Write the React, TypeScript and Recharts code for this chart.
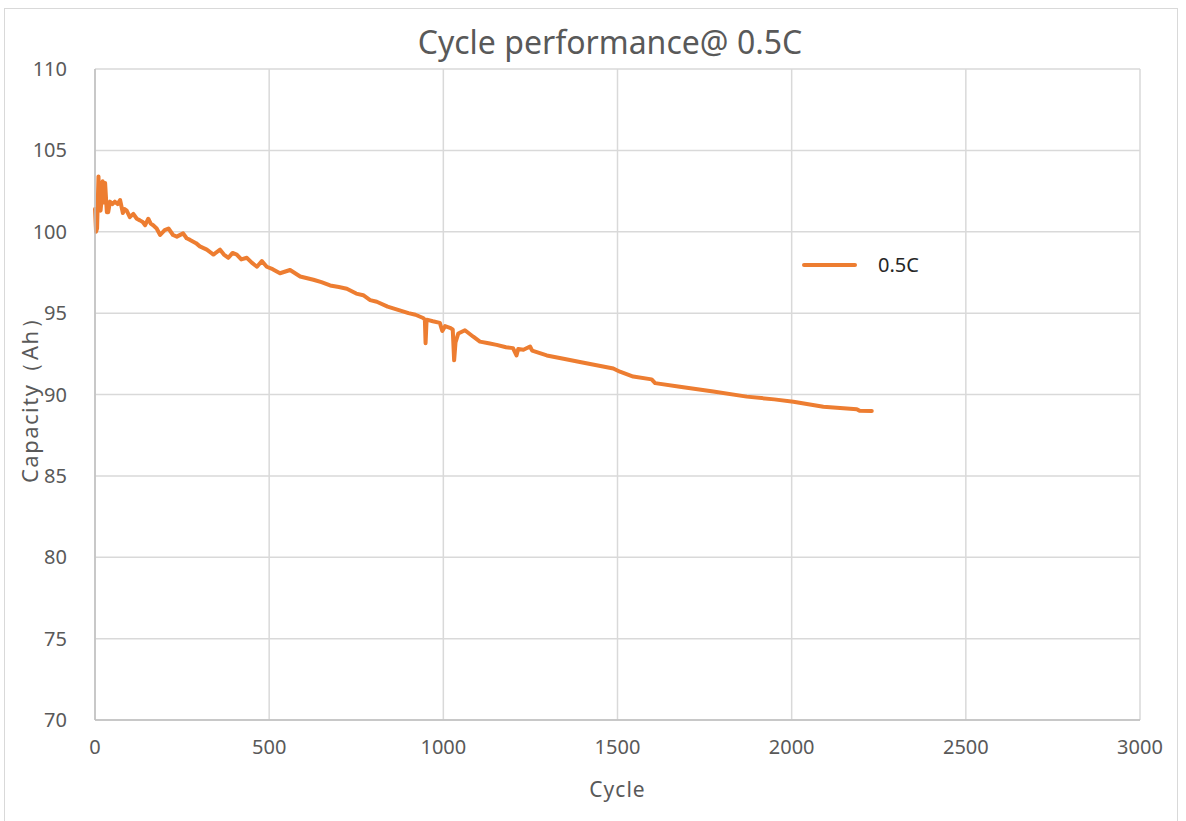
import React from 'react';
import { LineChart, Line, XAxis, YAxis, CartesianGrid, Label } from 'recharts';

const cycles = [
  0, 3, 6, 10, 13, 16, 19, 22, 26, 29, 34, 38, 43, 50, 57, 65, 72, 80, 85, 91,
  100, 110, 120, 129, 137, 144, 153, 160, 167, 177, 187, 200, 211, 224, 235, 253, 263, 273, 290, 301,
  321, 340, 359, 370, 383, 395, 407, 420, 436, 450, 465, 479, 493, 510, 531, 560, 589, 627, 650, 675,
  700, 723, 750, 770, 790, 809, 840, 870, 900, 920, 942, 947, 949, 952, 970, 990, 997, 1005, 1019, 1027,
  1031, 1035, 1043, 1062, 1086, 1105, 1130, 1153, 1180, 1200, 1210, 1215, 1230, 1249, 1255, 1297, 1345, 1392, 1440, 1488,
  1507, 1545, 1598, 1608, 1679, 1775, 1871, 1950, 2005, 2091, 2187, 2195, 2230,
];

const capacity = [
  101.4, 100.0, 100.2, 103.4, 101.5, 101.3, 102.0, 103.1, 101.8, 103.0, 101.2, 101.2, 101.85, 101.7, 101.85, 101.7, 101.95, 101.15, 101.4, 101.3,
  100.9, 101.1, 100.8, 100.7, 100.6, 100.4, 100.8, 100.5, 100.4, 100.2, 99.8, 100.1, 100.2, 99.8, 99.7, 99.9, 99.6, 99.5, 99.3, 99.1,
  98.9, 98.6, 98.9, 98.6, 98.4, 98.7, 98.6, 98.3, 98.4, 98.1, 97.85, 98.2, 97.85, 97.7, 97.45, 97.65, 97.25, 97.05, 96.9, 96.7,
  96.6, 96.5, 96.2, 96.1, 95.8, 95.7, 95.4, 95.2, 95.0, 94.9, 94.7, 94.6, 93.15, 94.6, 94.5, 94.4, 93.9, 94.2, 94.1, 94.0,
  92.1, 93.2, 93.75, 93.95, 93.55, 93.25, 93.15, 93.05, 92.9, 92.85, 92.4, 92.8, 92.75, 92.95, 92.7, 92.4, 92.2, 92.0, 91.8, 91.6,
  91.4, 91.1, 90.93, 90.7, 90.48, 90.18, 89.87, 89.7, 89.56, 89.25, 89.1, 89.0, 88.99,
];

const xTicks = [0, 500, 1000, 1500, 2000, 2500, 3000];
const yTicks = [70, 75, 80, 85, 90, 95, 100, 105, 110];

const data = cycles.map((c, i) => ({ cycle: c, cap: capacity[i] }));

const font = '"Noto Sans", "Open Sans", sans-serif';
const grey = '#595959';

export default function App() {
  return (
    <div style={{ position: 'absolute', left: 0, top: 0, width: 1186, height: 821, background: '#fff', fontFamily: font }}>
      <div style={{ position: 'absolute', left: 4, top: 8, width: 1172, height: 830, border: '1px solid #d9d9d9' }} />
      <div style={{ position: 'absolute', left: 0, top: 20, width: 1220, textAlign: 'center', fontSize: 32, color: grey }}>
        Cycle performance@ 0.5C
      </div>
      <LineChart
        width={1186}
        height={821}
        data={data}
        margin={{ top: 69, right: 46, bottom: 0, left: 0 }}
        style={{ position: 'absolute', left: 0, top: 0 }}
      >
        <CartesianGrid stroke="#d9d9d9" strokeWidth={1.5} />
        <XAxis
          dataKey="cycle"
          type="number"
          domain={[0, 3000]}
          ticks={xTicks}
          tickLine={false}
          tickSize={0}
          tickMargin={20}
          axisLine={{ stroke: '#bfbfbf', strokeWidth: 1.5 }}
          tick={{ fill: grey, fontSize: 20, fontFamily: font }}
          height={101}
        >
          <Label value="Cycle" position="insideTop" offset={62} style={{ fill: grey, fontSize: 21, fontFamily: font, letterSpacing: 1 }} />
        </XAxis>
        <YAxis
          type="number"
          domain={[70, 110]}
          ticks={yTicks}
          tickLine={false}
          tickSize={0}
          tickMargin={28}
          axisLine={{ stroke: '#bfbfbf', strokeWidth: 1.5 }}
          tick={{ fill: grey, fontSize: 20, fontFamily: font }}
          width={95}
        >
          <Label
            value="Capacity（Ah）"
            angle={-90}
            position="insideLeft"
            offset={30}
            style={{ fill: grey, fontSize: 22, fontFamily: font, textAnchor: 'middle', letterSpacing: 1.5 }}
          />
        </YAxis>
        <Line
          dataKey="cap"
          type="linear"
          stroke="#ED7D31"
          strokeWidth={4}
          strokeLinejoin="round"
          strokeLinecap="round"
          dot={false}
          isAnimationActive={false}
        />
      </LineChart>
      <div style={{ position: 'absolute', left: 802, top: 263, width: 55, height: 4, background: '#ED7D31', borderRadius: 2 }} />
      <div style={{ position: 'absolute', left: 878, top: 251, fontSize: 20, color: '#262626' }}>0.5C</div>
    </div>
  );
}
